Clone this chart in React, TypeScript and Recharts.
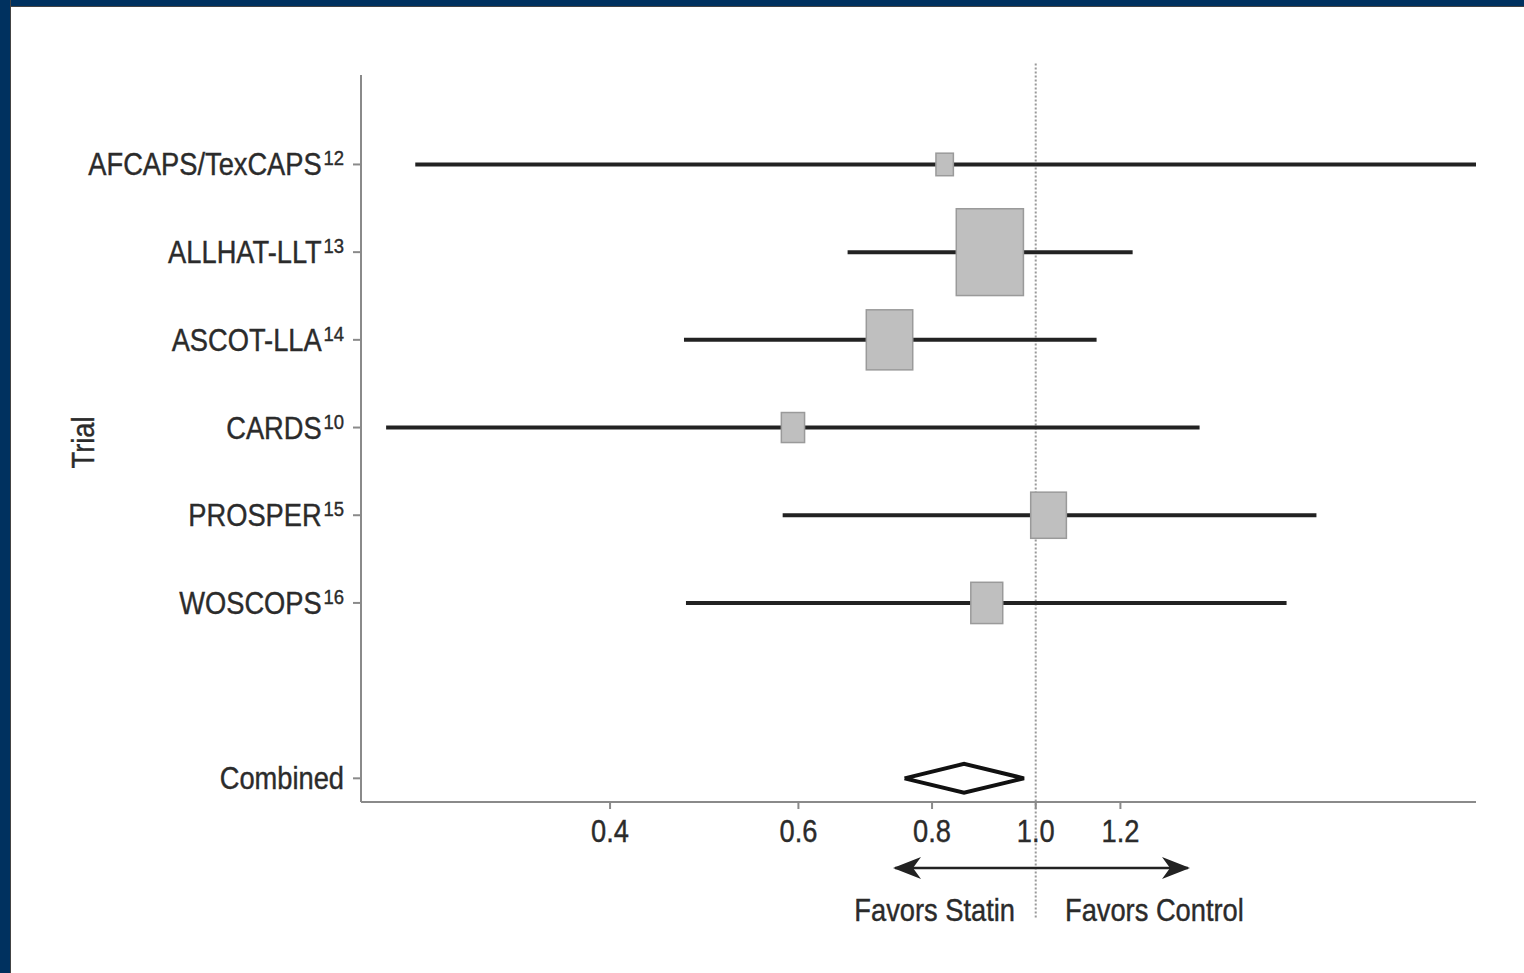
import React from "react";
import {
  ComposedChart,
  Scatter,
  XAxis,
  YAxis,
  ReferenceLine,
} from "recharts";

// trials, top to bottom
const trials = ["AFCAPS/TexCAPS", "ALLHAT-LLT", "ASCOT-LLA", "CARDS", "PROSPER", "WOSCOPS"];
const refs = ["12", "13", "14", "10", "15", "16"];
const rows = [1, 2, 3, 4, 5, 6];
const estimates = [0.822, 0.906, 0.73, 0.593, 1.028, 0.9];
const lower = [0.263, 0.667, 0.469, 0.247, 0.58, 0.471];
const upper = [2.58, 1.232, 1.14, 1.423, 1.83, 1.716];
const weights = [3.1, 46, 22, 5.5, 13, 10.4];

const combinedRow = 8;
const combinedLabel = "Combined";
const combinedEst = 0.857;
const combinedLower = 0.754;
const combinedUpper = 0.975;

const xTicks = [0.4, 0.6, 0.8, 1.0, 1.2];
const yTicks = [...rows, combinedRow];

const FONT = "'Liberation Sans', Arial, sans-serif";
const TEXT = "#2b2b2b";
const AXIS = "#8a8a8a";
const DIAMOND_HALF = 0.165;
const SQ = 0.88; // horizontal squeeze to mimic the condensed face

const boxes = rows.map((r, i) => ({ x: estimates[i], y: r, w: weights[i] }));
const ciSeries = rows.map((r, i) => [
  { x: lower[i], y: r },
  { x: upper[i], y: r },
]);
const diamond = [
  { x: combinedLower, y: combinedRow },
  { x: combinedEst, y: combinedRow - DIAMOND_HALF },
  { x: combinedUpper, y: combinedRow },
  { x: combinedEst, y: combinedRow + DIAMOND_HALF },
  { x: combinedLower, y: combinedRow },
];

const Cond = ({ x, y, anchor, size = 31, children }: any) => (
  <g transform={`translate(${x},${y}) scale(${SQ},1)`}>
    <text x={0} y={0} textAnchor={anchor} fill={TEXT} stroke={TEXT} strokeWidth={0.4} fontFamily={FONT} fontSize={size}>
      {children}
    </text>
  </g>
);

const YTick = ({ x, y, payload }: any) => {
  const i = rows.indexOf(payload.value);
  const label = i >= 0 ? trials[i] : combinedLabel;
  return (
    <Cond x={x} y={y + 11} anchor="end">
      {label}
      {i >= 0 && (
        <tspan dx={2} dy={-10} fontSize={21}>
          {refs[i]}
        </tspan>
      )}
    </Cond>
  );
};

const XTick = ({ x, y, payload }: any) => (
  <Cond x={x} y={y + 21} anchor="middle">
    {Number(payload.value).toFixed(1)}
  </Cond>
);

const Box = ({ cx, cy, payload }: any) => {
  const s = Math.sqrt(payload.w);
  const w = s * 9.9;
  const h = s * 12.8;
  return (
    <rect x={cx - w / 2} y={cy - h / 2} width={w} height={h} fill="#bfbfbf" stroke="#9a9a9a" strokeWidth={1.5} />
  );
};

const NoShape = () => null;

export default function App() {
  return (
    <div style={{ position: "absolute", left: 0, top: 0, width: 1524, height: 973, background: "#fff", overflow: "hidden" }}>
      <div style={{ position: "absolute", left: 0, top: 0, width: 1524, height: 6, background: "#00315f", borderBottom: "1px solid #444" }} />
      <div style={{ position: "absolute", left: 0, top: 0, width: 10, height: 973, background: "#00315f", borderRight: "1px solid #444" }} />
      <div style={{ position: "absolute", left: 0, top: 0 }}>
        <ComposedChart width={1524} height={973} margin={{ top: 75, right: 48, bottom: 131, left: 0 }}>
          <XAxis
            dataKey="x"
            type="number"
            scale="log"
            domain={[0.234, 2.58]}
            ticks={xTicks}
            height={40}
            stroke={AXIS}
            strokeWidth={2}
            tickSize={7}
            tickMargin={12}
            tick={<XTick />}
          />
          <YAxis
            dataKey="y"
            type="number"
            reversed
            domain={[-0.02, 8.27]}
            ticks={yTicks}
            width={361}
            stroke={AXIS}
            strokeWidth={2}
            tickSize={8}
            tickMargin={9}
            tick={<YTick />}
            label={{
              content: ({ viewBox }: any) => {
                const cy = viewBox.y + viewBox.height / 2 + 4;
                return (
                  <g transform={`translate(94,${cy}) rotate(-90) scale(${SQ},1)`}>
                    <text x={0} y={0} textAnchor="middle" fill={TEXT} stroke={TEXT} strokeWidth={0.4} fontFamily={FONT} fontSize={31}>
                      Trial
                    </text>
                  </g>
                );
              },
            }}
          />
          {ciSeries.map((d, i) => (
            <Scatter
              key={trials[i]}
              data={d}
              line={{ stroke: "#222", strokeWidth: 4 }}
              shape={<NoShape />}
              isAnimationActive={false}
            />
          ))}
          <Scatter data={boxes} shape={<Box />} isAnimationActive={false} />
          <Scatter
            data={diamond}
            line={{ stroke: "#111", strokeWidth: 4, strokeLinejoin: "miter" }}
            shape={<NoShape />}
            isAnimationActive={false}
          />
          <ReferenceLine
            segment={[
              { x: 1, y: -0.15 },
              { x: 1, y: 9.61 },
            ]}
            ifOverflow="visible"
            stroke="#999"
            strokeWidth={2}
            strokeDasharray="2 2"
          />
        </ComposedChart>
      </div>
      <svg width={1524} height={973} style={{ position: "absolute", left: 0, top: 0, pointerEvents: "none" }}>
        <defs>
          <marker id="ah" viewBox="0 0 28 22" refX={26} refY={11} markerWidth={28} markerHeight={22} markerUnits="userSpaceOnUse" orient="auto-start-reverse">
            <path d="M0,0 L28,11 L0,22 L8,11 Z" fill="#222" />
          </marker>
        </defs>
        <line x1={895} y1={868} x2={1188} y2={868} stroke="#222" strokeWidth={2.5} markerStart="url(#ah)" markerEnd="url(#ah)" />
        <Cond x={1015} y={921} anchor="end">
          Favors Statin
        </Cond>
        <Cond x={1065} y={921} anchor="start">
          Favors Control
        </Cond>
      </svg>
    </div>
  );
}
